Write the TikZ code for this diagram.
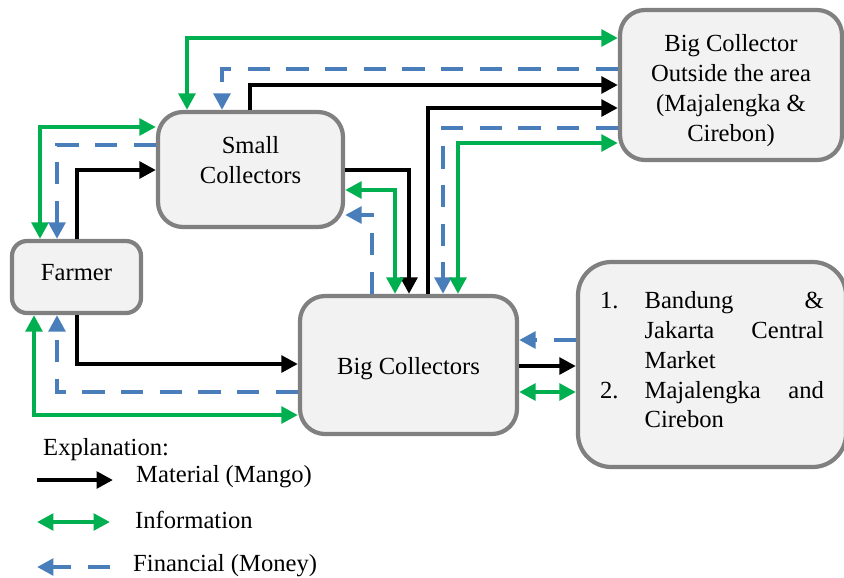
\documentclass[tikz,border=0pt]{standalone}
\usepackage{fontspec}
\setmainfont{Liberation Serif}
\usetikzlibrary{arrows.meta,positioning,calc}

\definecolor{infogreen}{HTML}{00B050}
\definecolor{moneyblue}{HTML}{4A7EBB}
\definecolor{boxgray}{HTML}{808080}
\definecolor{boxfill}{HTML}{F2F2F2}

\begin{document}
\begin{tikzpicture}[
    x=0.03cm, y=-0.03cm,
    >={Triangle[length=14pt,width=14pt]},
    block/.style={rectangle, rounded corners=0.75cm, draw=boxgray, line width=3.6pt, fill=boxfill, align=center, font=\fontsize{21}{25.5}\selectfont},
    txt/.style={inner sep=0pt, align=center, font=\fontsize{21}{25.5}\selectfont},
    mango/.style={->, line width=4pt, draw=black},
    info/.style={<->, line width=3.8pt, draw=infogreen},
    money/.style={->, line width=3.8pt, draw=moneyblue, dash pattern=on 19pt off 14pt}
]
\useasboundingbox (0,0) rectangle (844,577);

% Actors
\node[block, minimum width=6.66cm, minimum height=4.5cm] (bco) at (731,85) {};
\node[txt] (bcotxt) at ([yshift=-5pt]bco.center) {Big Collector\\Outside the area\\(Majalengka \&\\Cirebon)};
\node[block, minimum width=5.55cm, minimum height=3.45cm] (small) at (250.5,169.5) {};
\node[txt] (smalltxt) at ([yshift=8pt]small.center) {Small\\Collectors};
\node[block, rounded corners=0.45cm, minimum width=3.87cm, minimum height=2.16cm, text depth=7pt] (farmer) at (76.5,277) {Farmer};
\node[block, minimum width=6.51cm, minimum height=4.14cm, text height=21pt] (bc) at (408.5,365) {Big Collectors};
\node[block, rounded corners=1cm, minimum width=8.04cm, minimum height=6.15cm] (market) at (712,364.5) {};
\node[txt, align=left] (markettxt) at ([yshift=4pt]market.center) {%
    \makebox[38pt][l]{1.}\makebox[153pt]{Bandung\hfill\&}\\
    \makebox[38pt]{}\makebox[153pt]{Jakarta\hfill Central}\\
    \makebox[38pt]{}\makebox[153pt][l]{Market}\\
    \makebox[38pt][l]{2.}\makebox[153pt]{Majalengka\hfill and}\\
    \makebox[38pt]{}\makebox[153pt][l]{Cirebon}};

% Small collectors <-> outside collector
\draw[info] (small.north -| 187,0) |- (bco.west |- 0,38);
\draw[money] (bco.west |- 0,69) -| (small.north -| 222,0);
\draw[mango] (small.north -| 250,0) |- (bco.west |- 0,85);

% Big collectors <-> outside collector
\draw[mango] (bc.north -| 428,0) |- (bco.west |- 0,108);
\draw[money] (bco.west |- 0,128) -| (bc.north -| 443,0);
\draw[info] (bco.west |- 0,143) -| (bc.north -| 458,0);

% Farmer <-> small collectors
\draw[info] (small.west |- 0,127) -| (farmer.north -| 40,0);
\draw[money] (small.west |- 0,145) -| (farmer.north -| 57,0);
\draw[mango] (farmer.north -| 77,0) |- (small.west |- 0,170);

% Small collectors <-> big collectors
\draw[mango] (small.east |- 0,170) -| (bc.north -| 409,0);
\draw[info] (small.east |- 0,190) -| (bc.north -| 395,0);
\draw[money] (bc.north -| 372,0) |- (small.east |- 0,215);

% Farmer <-> big collectors
\draw[mango] (farmer.south -| 77,0) |- (bc.west |- 0,364);
\draw[money] (bc.west |- 0,392) -| (farmer.south -| 57,0);
\draw[info] (bc.west |- 0,415) -| (farmer.south -| 34,0);

% Big collectors <-> market
\draw[money] (market.west |- 0,340) -- (bc.east |- 0,340);
\draw[mango] (bc.east |- 0,366) -- (market.west |- 0,366);
\draw[info] (bc.east |- 0,392) -- (market.west |- 0,392);

% Legend
\node[txt, anchor=west] (expl) at (43,450) {Explanation:};
\coordinate (mangoA) at (37,480);
\coordinate (mangoB) at (113,480);
\draw[mango] (mangoA) -- (mangoB);
\node[txt, anchor=west] (mangolbl) at (136,477) {Material (Mango)};
\coordinate (infoA) at (37,522);
\coordinate (infoB) at (110,522);
\draw[info] (infoA) -- (infoB);
\node[txt, anchor=west] (infolbl) at (135,520) {Information};
\coordinate (moneyA) at (110,567);
\coordinate (moneyB) at (37,567);
\draw[money] (moneyA) -- (moneyB);
\node[txt, anchor=west] (moneylbl) at (133,566) {Financial (Money)};

\end{tikzpicture}
\end{document}
